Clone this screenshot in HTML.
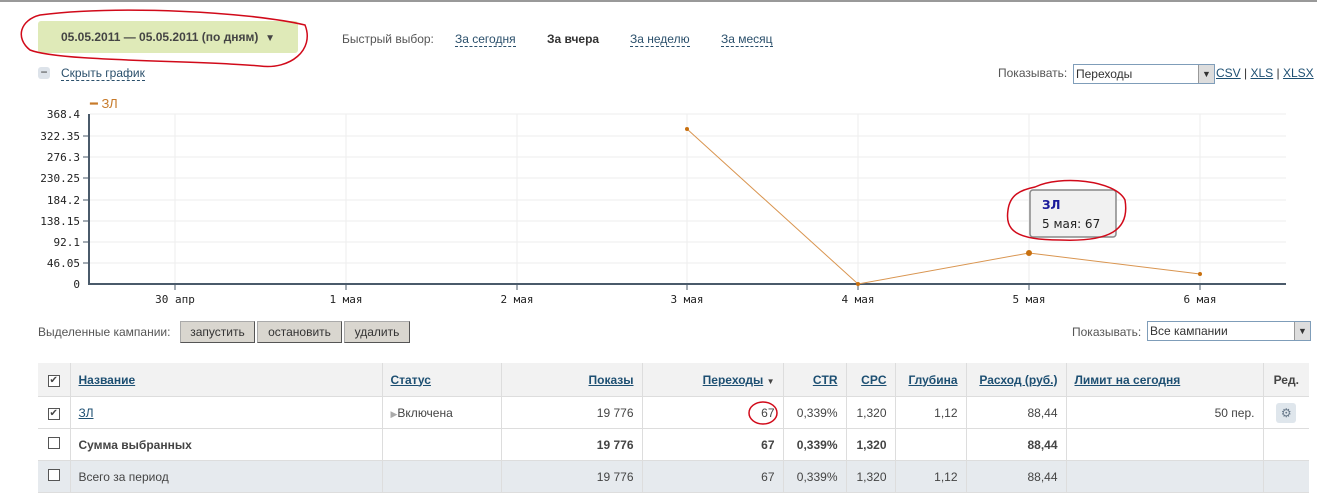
<!DOCTYPE html>
<html><head><meta charset="utf-8"><style>
body{margin:0;width:1317px;height:497px;background:#fff;position:relative;overflow:hidden;font-family:"Liberation Sans","DejaVu Sans",sans-serif;font-size:12px;color:#333}
.a{position:absolute;white-space:nowrap}
.lnk{color:#2a4f6b;text-decoration:none;border-bottom:1px dashed #2a4f6b}
u{color:#1d4f72}
table{position:absolute;left:38px;top:363px;width:1271px;border-collapse:collapse;font-size:12px}
td{border-left:1px solid #ddd;border-bottom:1px solid #ddd;padding:0 8px;height:31px;color:#444}
td:first-child{border-left:none;text-align:center;padding:0}
.r{text-align:right}
tr.h td{background:#f2f2f2;height:33px}
tr.g td{background:#e6eaee}
.cb{display:inline-block;width:10px;height:10px;border:1px solid #555;background:#fff;font-size:10px;line-height:10px;text-align:center}
.btn{position:absolute;top:321px;height:20px;background:#d9d6cf;border:1px solid #aaa;border-right-color:#555;border-bottom-color:#555;font-size:12px;line-height:20px;text-align:center;color:#333}
.sel{position:absolute;border:1px solid #7f9db9;height:18px;background:#fff;font-size:12px;line-height:18px;padding-left:2px}
.sel i{position:absolute;right:0;top:0;width:15px;height:18px;background:#ddd;border-left:1px solid #999;font-style:normal;font-size:9px;text-align:center}
</style></head><body>
<div style="position:absolute;left:0;top:0;width:1317px;height:2px;background:#999"></div>
<div class="a" style="left:38px;top:21px;width:260px;height:32px;background:#dfeab8;border-radius:3px;line-height:32px;text-align:center;font-weight:bold;color:#444">05.05.2011 — 05.05.2011 (по дням) &nbsp;<span style="font-size:10px">▼</span></div>
<svg class="a" style="left:0;top:0" width="320" height="75"><path d="M40,15 C120,5 250,12 305,25 C315,50 290,70 260,66 C200,60 60,62 30,50 C15,38 20,20 40,15Z" fill="none" stroke="#d10a1a" stroke-width="1.5"/></svg>
<div class="a" style="left:342px;top:32px;color:#555">Быстрый выбор:</div>
<div class="a" style="left:455px;top:32px"><span class="lnk">За сегодня</span></div>
<div class="a" style="left:547px;top:32px;font-weight:bold">За вчера</div>
<div class="a" style="left:630px;top:32px"><span class="lnk">За неделю</span></div>
<div class="a" style="left:721px;top:32px"><span class="lnk">За месяц</span></div>
<div class="a" style="left:38px;top:67px;width:12px;height:12px;background:#dde3ea;border-radius:3px;text-align:center;line-height:11px">−</div>
<div class="a" style="left:61px;top:66px"><span class="lnk">Скрыть график</span></div>
<div class="a" style="left:998px;top:66px;color:#555">Показывать:</div>
<div class="sel" style="left:1073px;top:64px;width:138px">Переходы<i>▼</i></div>
<div class="a" style="left:1216px;top:66px"><u>CSV</u> | <u>XLS</u> | <u>XLSX</u></div>
<svg class="a" style="left:0;top:90px" width="1317" height="220" font-family="DejaVu Sans Mono,monospace" font-size="11">
<text x="90" y="18" fill="#c77a2a" font-family="Liberation Sans" font-size="13">━ ЗЛ</text>
<g stroke="#eee">
<line x1="90" y1="24" x2="1286" y2="24"/><line x1="90" y1="46" x2="1286" y2="46"/><line x1="90" y1="67" x2="1286" y2="67"/><line x1="90" y1="88" x2="1286" y2="88"/><line x1="90" y1="110" x2="1286" y2="110"/><line x1="90" y1="131" x2="1286" y2="131"/><line x1="90" y1="152" x2="1286" y2="152"/><line x1="90" y1="173" x2="1286" y2="173"/>
<line x1="175" y1="24" x2="175" y2="194"/><line x1="346" y1="24" x2="346" y2="194"/><line x1="517" y1="24" x2="517" y2="194"/><line x1="687" y1="24" x2="687" y2="194"/><line x1="858" y1="24" x2="858" y2="194"/><line x1="1029" y1="24" x2="1029" y2="194"/><line x1="1200" y1="24" x2="1200" y2="194"/>
</g>
<line x1="89" y1="24" x2="89" y2="195" stroke="#4a5a6a" stroke-width="2"/>
<line x1="88" y1="194" x2="1286" y2="194" stroke="#4a5a6a" stroke-width="2"/>
<g fill="#222" text-anchor="end">
<text x="80" y="28">368.4</text><text x="80" y="50">322.35</text><text x="80" y="71">276.3</text><text x="80" y="92">230.25</text><text x="80" y="114">184.2</text><text x="80" y="135">138.15</text><text x="80" y="156">92.1</text><text x="80" y="177">46.05</text><text x="80" y="198">0</text>
</g>
<g stroke="#4a5a6a"><line x1="83" y1="46" x2="89" y2="46"/><line x1="83" y1="67" x2="89" y2="67"/><line x1="83" y1="88" x2="89" y2="88"/><line x1="83" y1="110" x2="89" y2="110"/><line x1="83" y1="131" x2="89" y2="131"/><line x1="83" y1="152" x2="89" y2="152"/><line x1="83" y1="173" x2="89" y2="173"/>
<line x1="175" y1="194" x2="175" y2="200"/><line x1="346" y1="194" x2="346" y2="200"/><line x1="517" y1="194" x2="517" y2="200"/><line x1="687" y1="194" x2="687" y2="200"/><line x1="858" y1="194" x2="858" y2="200"/><line x1="1029" y1="194" x2="1029" y2="200"/><line x1="1200" y1="194" x2="1200" y2="200"/></g>
<g fill="#222" text-anchor="middle"><text x="175" y="213">30 апр</text><text x="346" y="213">1 мая</text><text x="517" y="213">2 мая</text><text x="687" y="213">3 мая</text><text x="858" y="213">4 мая</text><text x="1029" y="213">5 мая</text><text x="1200" y="213">6 мая</text></g>
<polyline points="687,39 858,194 1029,163 1200,184" fill="none" stroke="#d99550" stroke-width="1"/>
<g fill="#c8700f"><circle cx="687" cy="39" r="2"/><circle cx="858" cy="194" r="2"/><circle cx="1029" cy="163" r="3"/><circle cx="1200" cy="184" r="2"/></g>
<rect x="1030" y="100" width="86" height="47" rx="3" fill="#f1f1f1" stroke="#888" stroke-width="1.5"/>
<text x="1042" y="119" fill="#1a1a9a" font-weight="bold" font-size="12" font-family="DejaVu Sans">ЗЛ</text>
<text x="1042" y="138" fill="#222" font-size="12" font-family="DejaVu Sans">5 мая: 67</text>
<path d="M1035,97 C1060,85 1115,90 1125,110 C1130,140 1110,152 1060,150 C1015,150 1005,140 1008,120 C1010,105 1020,100 1035,97Z" fill="none" stroke="#d10a1a" stroke-width="1.5"/>
</svg>
<div class="a" style="left:38px;top:325px;color:#555">Выделенные кампании:</div>
<div class="btn" style="left:180px;width:73px">запустить</div>
<div class="btn" style="left:257px;width:83px">остановить</div>
<div class="btn" style="left:344px;width:64px">удалить</div>
<div class="a" style="left:1072px;top:325px;color:#555">Показывать:</div>
<div class="sel" style="left:1147px;top:321px;width:160px">Все кампании<i>▼</i></div>
<table>
<colgroup><col style="width:32px"><col style="width:312px"><col style="width:119px"><col style="width:141px"><col style="width:141px"><col style="width:63px"><col style="width:49px"><col style="width:71px"><col style="width:100px"><col style="width:197px"><col></colgroup>
<tr class="h"><td><span class="cb">✔</span></td><td><u><b>Название</b></u></td><td><u><b>Статус</b></u></td><td class="r"><u><b>Показы</b></u></td><td class="r"><u><b>Переходы</b></u> <span style="font-size:8px">▼</span></td><td class="r"><u><b>CTR</b></u></td><td class="r"><u><b>CPC</b></u></td><td class="r"><u><b>Глубина</b></u></td><td class="r"><u><b>Расход (руб.)</b></u></td><td><u><b>Лимит на сегодня</b></u></td><td style="text-align:center;font-weight:bold">Ред.</td></tr>
<tr><td><span class="cb">✔</span></td><td><u>ЗЛ</u></td><td><span style="color:#aaa;font-size:9px">▶</span>Включена</td><td class="r">19 776</td><td class="r" style="position:relative">67<svg style="position:absolute;left:103px;top:2px" width="34" height="28"><ellipse cx="17" cy="14" rx="14" ry="11" fill="none" stroke="#d10a1a" stroke-width="1.5"/></svg></td><td class="r">0,339%</td><td class="r">1,320</td><td class="r">1,12</td><td class="r">88,44</td><td class="r">50 пер.</td><td style="text-align:center"><span style="display:inline-block;width:20px;height:20px;background:#dfe6ec;border-radius:3px;color:#678;line-height:20px">⚙</span></td></tr>
<tr><td><span class="cb"></span></td><td><b>Сумма выбранных</b></td><td></td><td class="r"><b>19 776</b></td><td class="r"><b>67</b></td><td class="r"><b>0,339%</b></td><td class="r"><b>1,320</b></td><td></td><td class="r"><b>88,44</b></td><td></td><td></td></tr>
<tr class="g"><td><span class="cb"></span></td><td>Всего за период</td><td></td><td class="r">19 776</td><td class="r">67</td><td class="r">0,339%</td><td class="r">1,320</td><td class="r">1,12</td><td class="r">88,44</td><td></td><td></td></tr>
</table>
</body></html>
